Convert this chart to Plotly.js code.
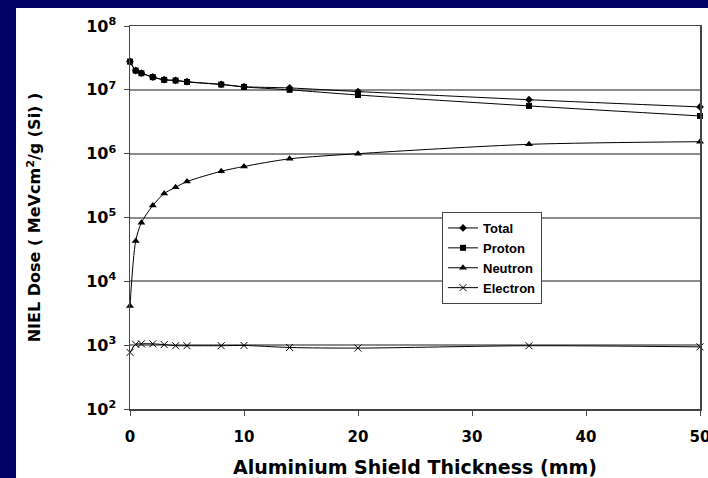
<!DOCTYPE html>
<html>
<head>
<meta charset="utf-8">
<script src="https://cdn.plot.ly/plotly-3.0.1.min.js"></script>
<style>
html,body{margin:0;padding:0;background:#000066;}
#chart{width:708px;height:478px;}
</style>
</head>
<body>
<div id="chart"></div>
<script>
const thickness = [0, 0.5, 1, 2, 3, 4, 5, 8, 10, 14, 20, 35, 50];
const total = [2.78e7, 2.01e7, 1.83e7, 1.59e7, 1.44e7, 1.41e7, 1.34e7, 1.22e7, 1.12e7, 1.07e7, 9.4e6, 7.0e6, 5.4e6];
const proton = [2.77e7, 2.0e7, 1.82e7, 1.58e7, 1.43e7, 1.40e7, 1.33e7, 1.21e7, 1.11e7, 1.0e7, 8.3e6, 5.6e6, 3.9e6];
const neutron = [4.1e3, 4.3e4, 8.3e4, 1.54e5, 2.37e5, 2.98e5, 3.65e5, 5.3e5, 6.3e5, 8.3e5, 1.0e6, 1.4e6, 1.54e6];
const electron = [770, 1030, 1050, 1050, 1020, 980, 980, 980, 990, 920, 900, 980, 940];
const seriesNames = ['Total', 'Proton', 'Neutron', 'Electron'];
const yTickVals = [1e2, 1e3, 1e4, 1e5, 1e6, 1e7, 1e8];
const yTickText = ['10<sup>2</sup>', '10<sup>3</sup>', '10<sup>4</sup>', '10<sup>5</sup>', '10<sup>6</sup>', '10<sup>7</sup>', '10<sup>8</sup>'];
const xTickVals = [0, 10, 20, 30, 40, 50];

const FONT = 'Liberation Sans, Arial, sans-serif';
const HEAVY = 'DejaVu Sans, sans-serif';
const symbols = ['diamond', 'square', 'triangle-up', 'x-thin-open'];
const sizes = [6, 6, 7, 7];
const data = [total, proton, neutron, electron].map((ys, i) => ({
  x: thickness, y: ys, name: seriesNames[i], type: 'scatter', mode: 'lines+markers',
  line: {color: '#000000', width: 1, shape: 'spline', smoothing: 0.8},
  marker: {symbol: symbols[i], size: sizes[i], color: '#000000', line: {color: '#000000', width: i === 3 ? 1 : 0}},
  cliponaxis: false
}));

const L = 130, R = 700, T = 26, B = 409, W = 708, H = 478;
const pw = R - L, ph = B - T;
const layout = {
  width: W, height: H,
  margin: {l: L, r: W - R, t: T, b: H - B, pad: 0},
  paper_bgcolor: '#000066',
  plot_bgcolor: '#ffffff',
  showlegend: true,
  font: {family: FONT, color: '#000000'},
  xaxis: {
    range: [0, 50], tickvals: xTickVals, ticks: 'outside', ticklen: 5, tickcolor: '#444',
    ticklabelstandoff: 8, ticklabeloverflow: 'allow',
    showgrid: false, zeroline: false, showline: true, linecolor: '#444', linewidth: 1.5, mirror: true,
    tickfont: {family: HEAVY, size: 15, weight: 'bold'},
    title: {text: 'Aluminium Shield Thickness (mm)', font: {family: HEAVY, size: 19, weight: 'bold'}, standoff: 18}
  },
  yaxis: {
    type: 'log', range: [2, 8], tickvals: yTickVals, ticktext: yTickText,
    ticks: 'outside', ticklen: 5, tickcolor: '#444', ticklabelstandoff: 4, ticklabeloverflow: 'allow',
    showgrid: true, gridcolor: '#8c8c8c', gridwidth: 2, zeroline: false,
    showline: true, linecolor: '#444', linewidth: 1.5, mirror: true,
    tickfont: {family: HEAVY, size: 16, weight: 'bold'},
    title: {text: 'NIEL Dose ( MeVcm<sup>2</sup>/g (Si) )', font: {family: HEAVY, size: 16, weight: 'bold'}, standoff: 41}
  },
  legend: {
    x: (442 - L) / pw, y: (B - 212) / ph, xanchor: 'left', yanchor: 'top',
    bgcolor: '#ffffff', bordercolor: '#444', borderwidth: 1,
    font: {family: FONT, size: 13, weight: 'bold'}, tracegroupgap: 0, itemwidth: 30
  },
  shapes: [{
    type: 'rect', xref: 'paper', yref: 'paper', layer: 'below',
    x0: (16 - L) / pw, x1: (W - L) / pw, y0: (B - H) / ph, y1: (B - 8) / ph,
    fillcolor: '#ffffff', line: {width: 0}
  }]
};
Plotly.newPlot('chart', data, layout, {displayModeBar: false, staticPlot: true});
</script>
</body>
</html>
